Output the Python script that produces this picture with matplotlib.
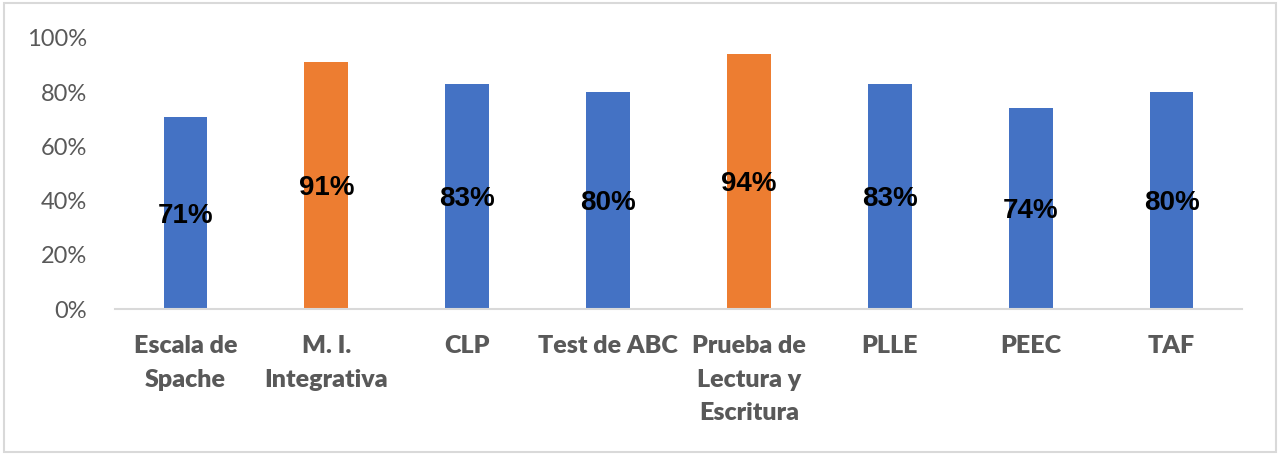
import matplotlib.pyplot as plt
from matplotlib.patches import Rectangle

categorias = ["Escala de\nSpache", "M. I.\nIntegrativa", "CLP", "Test de ABC",
              "Prueba de\nLectura y\nEscritura", "PLLE", "PEEC", "TAF"]
valores = [71, 91, 83, 80, 94, 83, 74, 80]
destacados = [False, True, False, False, True, False, False, False]
yticks = [0, 20, 40, 60, 80, 100]

azul = "#4472C4"
naranja = "#ED7D31"
gris = "#595959"

fig = plt.figure(figsize=(12.8, 4.55), dpi=100)
ax = fig.add_axes([115 / 1280, 1 - 309 / 455, 1127 / 1280, 271 / 455])

colores = [naranja if d else azul for d in destacados]
x = list(range(len(valores)))
ax.bar(x, valores, width=0.31, color=colores, zorder=2)

for xi, v in zip(x, valores):
    ax.text(xi, v / 2 - 1, f"{v}%", ha="center", va="center",
            fontsize=20, fontweight="bold", family="Liberation Sans", color="black")

ax.set_xlim(-0.5, len(valores) - 0.5)
ax.set_ylim(0, 100)
ax.set_yticks(yticks)
ax.set_yticklabels([f"{t}%" for t in yticks], family="Lato", fontsize=17, color=gris)
ax.set_xticks(x)
ax.set_xticklabels(categorias, family="Lato", fontsize=18, fontweight="heavy",
                   color=gris, linespacing=1.63, va="top")
ax.tick_params(axis="y", length=0, pad=20)
ax.tick_params(axis="x", length=0, pad=19)

for s in ["top", "right", "left"]:
    ax.spines[s].set_visible(False)
ax.spines["bottom"].set_color("#D9D9D9")
ax.spines["bottom"].set_linewidth(1.5)

fig.patches.append(Rectangle((4 / 1280, 3 / 455), 1272 / 1280, 449 / 455,
                             transform=fig.transFigure, fill=False,
                             edgecolor="#D9D9D9", linewidth=1.5))

fig.savefig("out.png", dpi=100)
